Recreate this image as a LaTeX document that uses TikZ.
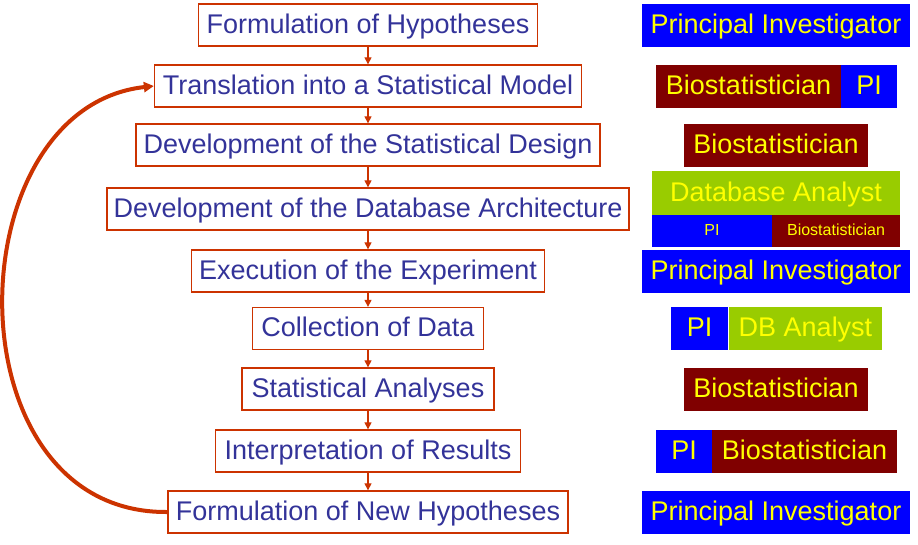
\documentclass[tikz,border=0pt]{standalone}
\usepackage{fontspec}
\setmainfont{Liberation Sans}
\usetikzlibrary{arrows.meta}

\definecolor{flowline}{RGB}{204,51,0}
\definecolor{steptext}{RGB}{51,51,153}
\definecolor{piblue}{RGB}{0,0,255}
\definecolor{biored}{RGB}{128,0,0}
\definecolor{dbgreen}{RGB}{153,204,0}
\definecolor{roletext}{RGB}{255,255,0}

\begin{document}
\begin{tikzpicture}[x=1pt,y=-1pt,
  bigfont/.style={font=\fontsize{27}{30}\selectfont, text height=19.5pt, text depth=3pt},
  smallfont/.style={font=\fontsize{16}{18}\selectfont, text height=11.5pt, text depth=2pt},
  stepbox/.style={draw=flowline, line width=1.3pt, text=steptext, bigfont,
    inner sep=0pt, minimum height=42pt},
  rolebox/.style={inner sep=0pt, text=roletext, bigfont, minimum height=43pt},
  pirole/.style={rolebox, fill=piblue},
  biorole/.style={rolebox, fill=biored},
  dbrole/.style={rolebox, fill=dbgreen},
  flowarrow/.style={draw=flowline, line width=1.1pt, -{Triangle[length=7pt,width=7pt]}},
  looparrow/.style={draw=flowline, line width=4pt, -{Triangle[length=10pt,width=10pt]}}
]
\useasboundingbox (0,0) rectangle (918,544);

% research steps
\node[stepbox, minimum width=339] (s1) at (368,25)  {Formulation of Hypotheses};
\node[stepbox, minimum width=427] (s2) at (368,86)  {Translation into a Statistical Model};
\node[stepbox, minimum width=464] (s3) at (368,145) {Development of the Statistical Design};
\node[stepbox, minimum width=522] (s4) at (368,209) {Development of the Database Architecture};
\node[stepbox, minimum width=353] (s5) at (368,271) {Execution of the Experiment};
\node[stepbox, minimum width=231] (s6) at (368,328.5) {Collection of Data};
\node[stepbox, minimum width=252] (s7) at (368,389) {Statistical Analyses};
\node[stepbox, minimum width=305] (s8) at (368,451) {Interpretation of Results};
\node[stepbox, minimum width=400] (s9) at (368,512) {Formulation of New Hypotheses};

% step-to-step arrows
\foreach \a/\b in {s1/s2,s2/s3,s3/s4,s4/s5,s5/s6,s6/s7,s7/s8,s8/s9}
  \draw[flowarrow] (\a) -- (\b);

% feedback loop back to the model
\draw[looparrow] (s9.west) .. controls (-52,514) and (-46,108) .. (s2.west);

% responsible roles
\node[pirole, minimum width=268] (r1) at (776,25.5) {Principal Investigator};

\node[biorole, minimum width=185] (r2a) at (748.5,86.5) {Biostatistician};
\node[pirole, minimum width=56] (r2b) at (869,86.5) {PI};

\node[biorole, minimum width=184] (r3) at (776,145) {Biostatistician};

\node[dbrole, minimum width=248, minimum height=44pt] (r4a) at (776,193) {Database Analyst};
\node[pirole, smallfont, minimum width=120, minimum height=32pt] (r4b) at (712,231) {PI};
\node[biorole, smallfont, minimum width=128, minimum height=32pt] (r4c) at (836,231) {Biostatistician};

\node[pirole, minimum width=268] (r5) at (776,271) {Principal Investigator};

\node[pirole, minimum width=57] (r6a) at (699.5,328.5) {PI};
\node[dbrole, minimum width=153] (r6b) at (805.5,328.5) {DB Analyst};

\node[biorole, minimum width=184] (r7) at (776,389.5) {Biostatistician};

\node[pirole, minimum width=56] (r8a) at (684,451.5) {PI};
\node[biorole, minimum width=185] (r8b) at (804.5,451.5) {Biostatistician};

\node[pirole, minimum width=268] (r9) at (776,512.5) {Principal Investigator};
\end{tikzpicture}
\end{document}
